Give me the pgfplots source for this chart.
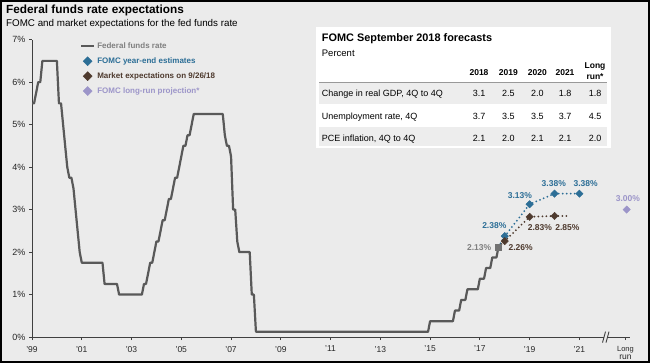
\documentclass[border=0pt]{standalone}
\usepackage{pgfplots}
\pgfplotsset{compat=1.18}
\usepackage{fontspec}
\setmainfont{Liberation Sans}
\definecolor{bg}{HTML}{EBEBEB}
\definecolor{ffr}{HTML}{595959}
\definecolor{ffrtxt}{HTML}{7F7F7F}
\definecolor{fomc}{HTML}{2C6E96}
\definecolor{mkt}{HTML}{4E3A2E}
\definecolor{lr}{HTML}{9C95C9}
\definecolor{rowgray}{HTML}{EDEDED}
\definecolor{axisc}{HTML}{404040}
\definecolor{tickc}{HTML}{262626}
\begin{document}
\begin{tikzpicture}[x=1pt,y=1pt]
\path[use as bounding box] (0,0) rectangle (650,363);
\fill[bg] (0,0) rectangle (650,363);
\draw[black, line width=2pt] (1,1) rectangle (649,362);
\node[anchor=base west, font=\bfseries\fontsize{11.8}{13}\selectfont, inner sep=0] at (6,349) {Federal funds rate expectations};
\node[anchor=base west, font=\fontsize{9.8}{11}\selectfont, inner sep=0] at (6,336) {FOMC and market expectations for the fed funds rate};
\begin{axis}[
  at={(32pt,25.9pt)}, anchor=south west,
  scale only axis, width=598.4pt, height=297.5pt,
  xmin=2000, xmax=2024.05, ymin=0, ymax=7,
  axis x line*=bottom, axis y line*=left,
  axis line style={draw=axisc, line width=0.8pt, -},
  tick style={draw=axisc, line width=0.8pt},
  major tick length=3pt, tick align=outside,
  xtick={2000,2002,2004,2006,2008,2010,2012,2014,2016,2018,2020,2022,2023.85},
  xticklabels={'99,'01,'03,'05,'07,'09,'11,'13,'15,'17,'19,'21,{\fontsize{7.5}{8}\selectfont Long\\run}},
  ytick={0,1,2,3,4,5,6,7},
  yticklabels={0\%,1\%,2\%,3\%,4\%,5\%,6\%,7\%},
  /pgf/number format/assume math mode=true,
  xticklabel style={font=\fontsize{8.5}{8.5}\selectfont, text=tickc, align=center, yshift=-2.5pt},
  yticklabel style={font=\fontsize{9}{9}\selectfont, text=tickc},
  clip=false,
  legend style={at={(0.08,0.997)}, anchor=north west, draw=none, fill=none,
    font=\bfseries\fontsize{8}{9}\selectfont, row sep=3.6pt, inner sep=0pt,
    cells={anchor=west}},
]
\addplot[ffr, line width=2.2pt, line join=round,
  legend image code/.code={\draw[ffr, line width=2.2pt] (0pt,0pt) -- (13pt,0pt);}]
coordinates {
(2000.000,5.5)(2000.083,5.5)(2000.167,5.75)(2000.250,6.0)(2000.333,6.0)(2000.417,6.5)
(2001.000,6.5)(2001.083,5.5)(2001.167,5.5)(2001.250,5.0)(2001.333,4.5)(2001.417,4.0)
(2001.500,3.75)(2001.583,3.75)(2001.667,3.5)(2001.750,3.0)(2001.833,2.5)(2001.917,2.0)
(2002.000,1.75)(2002.833,1.75)(2002.917,1.25)(2003.417,1.25)(2003.500,1.0)(2004.417,1.0)
(2004.500,1.25)(2004.583,1.25)(2004.667,1.5)(2004.750,1.75)(2004.833,1.75)(2004.917,2.0)
(2005.000,2.25)(2005.083,2.25)(2005.167,2.5)(2005.250,2.75)(2005.333,2.75)(2005.417,3.0)
(2005.500,3.25)(2005.583,3.25)(2005.667,3.5)(2005.750,3.75)(2005.833,3.75)(2005.917,4.0)
(2006.000,4.25)(2006.083,4.5)(2006.167,4.5)(2006.250,4.75)(2006.333,4.75)(2006.417,5.0)
(2006.500,5.25)(2007.667,5.25)(2007.750,4.75)(2007.833,4.5)(2007.917,4.5)(2008.000,4.25)
(2008.083,3.0)(2008.167,3.0)(2008.250,2.25)(2008.333,2.0)(2008.750,2.0)(2008.833,1.0)
(2008.917,1.0)(2009.000,0.125)(2015.917,0.125)(2016.000,0.375)(2016.917,0.375)(2017.000,0.625)
(2017.167,0.625)(2017.250,0.875)(2017.417,0.875)(2017.500,1.125)(2017.917,1.125)(2018.000,1.375)
(2018.167,1.375)(2018.250,1.625)(2018.417,1.625)(2018.500,1.875)(2018.667,1.875)(2018.750,2.125)
};
\addlegendentry{\textcolor{ffrtxt}{Federal funds rate}}
% dotted paths
\addplot[forget plot, fomc, line width=2pt, line cap=round, dash pattern=on 0pt off 4pt]
coordinates {(2018.75,2.125)(2019.0,2.375)(2020.0,3.125)(2021.0,3.375)(2022.0,3.375)};
\addplot[forget plot, mkt, line width=2pt, line cap=round, dash pattern=on 0pt off 4pt]
coordinates {(2018.75,2.125)(2019.0,2.26)(2020.0,2.83)(2021.0,2.85)(2021.54,2.85)};
% end square
\addplot[forget plot, only marks, mark=square*, mark size=3pt, color=ffr!85!white]
coordinates {(2018.75,2.125)};
\addplot[only marks, mark=square*, mark size=2.6pt, mark options={rotate=45}, color=fomc,
  legend image code/.code={\draw[color=fomc, mark=square*, mark size=3.2pt, mark options={rotate=45}] plot coordinates {(6.5pt,0pt)};}]
coordinates {(2019.0,2.375)(2020.0,3.125)(2021.0,3.375)(2022.0,3.375)};
\addlegendentry{\textcolor{fomc}{FOMC year-end estimates}}
\addplot[only marks, mark=square*, mark size=2.6pt, mark options={rotate=45}, color=mkt,
  legend image code/.code={\draw[color=mkt, mark=square*, mark size=3.2pt, mark options={rotate=45}] plot coordinates {(6.5pt,0pt)};}]
coordinates {(2019.0,2.26)(2020.0,2.83)(2021.0,2.85)};
\addlegendentry{\textcolor{mkt}{Market expectations on 9/26/18}}
\addplot[only marks, mark=square*, mark size=2.6pt, mark options={rotate=45}, color=lr,
  legend image code/.code={\draw[color=lr, mark=square*, mark size=3.2pt, mark options={rotate=45}] plot coordinates {(6.5pt,0pt)};}]
coordinates {(2023.9,3.0)};
\addlegendentry{\textcolor{lr}{FOMC long-run projection*}}
% data labels
\begin{scope}[font=\bfseries\fontsize{8.5}{9}\selectfont, inner sep=0pt]
\node[text=ffrtxt] at (axis cs:2017.97,2.11) {2.13\%};
\node[text=mkt] at (axis cs:2019.64,2.11) {2.26\%};
\node[text=fomc] at (axis cs:2018.58,2.63) {2.38\%};
\node[text=fomc] at (axis cs:2019.61,3.33) {3.13\%};
\node[text=fomc] at (axis cs:2020.97,3.61) {3.38\%};
\node[text=fomc] at (axis cs:2022.25,3.61) {3.38\%};
\node[text=mkt] at (axis cs:2020.41,2.57) {2.83\%};
\node[text=mkt] at (axis cs:2021.52,2.57) {2.85\%};
\node[text=lr] at (axis cs:2023.95,3.27) {3.00\%};
\end{scope}
% axis break
\fill[bg] (axis cs:2023.07,0) ++(-2.5pt,-1pt) rectangle ++(4pt,2pt);
\draw[axisc, line width=0.9pt] (axis cs:2023.07,0) ++(-3.5pt,-5.5pt) -- ++(3pt,11pt);
\draw[axisc, line width=0.9pt] (axis cs:2023.07,0) ++(0pt,-5.5pt) -- ++(3pt,11pt);
\end{axis}
% table panel
\fill[white] (316,215) rectangle (611,336);
\fill[white] (319,281) rectangle (607,303);
\fill[rowgray] (319,259) rectangle (607,280);
\fill[rowgray] (319,216.5) rectangle (607,236);
\draw[gray!80, line width=0.8pt] (319,281) -- (607,281);
\node[anchor=base west, font=\bfseries\fontsize{10.9}{12}\selectfont, inner sep=0] at (321.7,321) {FOMC September 2018 forecasts};
\node[anchor=base west, font=\fontsize{9.5}{11}\selectfont, inner sep=0] at (321.7,306) {Percent};
\begin{scope}[font=\bfseries\fontsize{8.5}{9}\selectfont, inner sep=0]
\node[anchor=base] at (479,287.5) {2018};
\node[anchor=base] at (508.3,287.5) {2019};
\node[anchor=base] at (537.3,287.5) {2020};
\node[anchor=base] at (565,287.5) {2021};
\node[anchor=base] at (595,294) {Long};
\node[anchor=base] at (595,283.5) {run*};
\end{scope}
\begin{scope}[font=\fontsize{9}{10}\selectfont, inner sep=0]
\node[anchor=base west] at (321.7,266.5) {Change in real GDP, 4Q to 4Q};
\node[anchor=base west] at (321.7,243.8) {Unemployment rate, 4Q};
\node[anchor=base west] at (321.7,221) {PCE inflation, 4Q to 4Q};
\node[anchor=base] at (479,266.5) {3.1};
\node[anchor=base] at (508.3,266.5) {2.5};
\node[anchor=base] at (537.3,266.5) {2.0};
\node[anchor=base] at (565,266.5) {1.8};
\node[anchor=base] at (595,266.5) {1.8};
\node[anchor=base] at (479,243.8) {3.7};
\node[anchor=base] at (508.3,243.8) {3.5};
\node[anchor=base] at (537.3,243.8) {3.5};
\node[anchor=base] at (565,243.8) {3.7};
\node[anchor=base] at (595,243.8) {4.5};
\node[anchor=base] at (479,221) {2.1};
\node[anchor=base] at (508.3,221) {2.0};
\node[anchor=base] at (537.3,221) {2.1};
\node[anchor=base] at (565,221) {2.1};
\node[anchor=base] at (595,221) {2.0};
\end{scope}
\end{tikzpicture}
\end{document}
